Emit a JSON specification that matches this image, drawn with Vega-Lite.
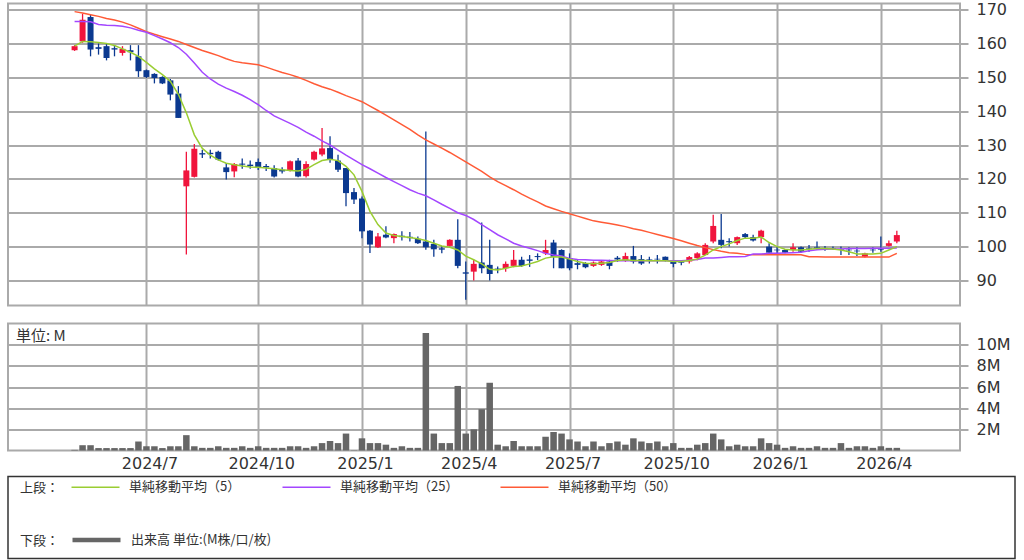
{
"$schema": "https://vega.github.io/schema/vega-lite/v6.json",
"background": "white",
"padding": {"left": 7, "top": 0.5, "right": 0, "bottom": 0},
"bounds": "full",
"spacing": 3,
"datasets": {"w": [
{"d":"2024-04-29","o":158.0,"h":159.5,"l":157.8,"c":159.2,"v":0.06,"m5":159.2,"m25":166.5,"m50":169.4},
{"d":"2024-05-06","o":160.6,"h":168.8,"l":160.2,"c":167.0,"v":0.5,"m5":160.6,"m25":166.5,"m50":169.0},
{"d":"2024-05-13","o":167.8,"h":168.4,"l":156.2,"c":158.2,"v":0.5,"m5":160.5,"m25":166.4,"m50":168.5},
{"d":"2024-05-20","o":158.9,"h":160.0,"l":156.7,"c":158.4,"v":0.23,"m5":160.3,"m25":165.6,"m50":168.0},
{"d":"2024-05-27","o":159.2,"h":160.0,"l":155.0,"c":155.7,"v":0.23,"m5":160.0,"m25":165.4,"m50":167.4},
{"d":"2024-06-03","o":158.6,"h":159.4,"l":156.2,"c":158.2,"v":0.23,"m5":159.4,"m25":165.3,"m50":166.9},
{"d":"2024-06-10","o":157.2,"h":159.2,"l":156.4,"c":158.4,"v":0.23,"m5":158.4,"m25":165.1,"m50":166.3},
{"d":"2024-06-17","o":158.0,"h":159.5,"l":155.0,"c":157.4,"v":0.23,"m5":157.4,"m25":164.6,"m50":165.5},
{"d":"2024-06-24","o":156.2,"h":159.5,"l":150.1,"c":151.8,"v":0.85,"m5":156.2,"m25":163.9,"m50":164.5},
{"d":"2024-07-01","o":152.1,"h":152.3,"l":149.8,"c":150.1,"v":0.4,"m5":154.4,"m25":163.3,"m50":163.5},
{"d":"2024-07-08","o":151.0,"h":151.2,"l":148.2,"c":149.8,"v":0.4,"m5":152.5,"m25":162.3,"m50":162.7},
{"d":"2024-07-15","o":150.1,"h":150.3,"l":148.0,"c":148.2,"v":0.23,"m5":150.8,"m25":161.3,"m50":162.0},
{"d":"2024-07-22","o":149.1,"h":149.5,"l":143.2,"c":144.9,"v":0.4,"m5":148.8,"m25":160.2,"m50":161.3},
{"d":"2024-07-29","o":145.2,"h":147.4,"l":138.0,"c":138.0,"v":0.4,"m5":145.0,"m25":158.8,"m50":160.6},
{"d":"2024-08-05","o":117.8,"h":128.0,"l":97.7,"c":122.5,"v":1.45,"m5":139.5,"m25":156.8,"m50":159.7},
{"d":"2024-08-12","o":120.6,"h":130.3,"l":120.4,"c":128.9,"v":0.4,"m5":133.0,"m25":154.2,"m50":158.8},
{"d":"2024-08-19","o":127.6,"h":128.6,"l":126.2,"c":127.2,"v":0.25,"m5":129.0,"m25":151.5,"m50":157.9},
{"d":"2024-08-26","o":127.7,"h":128.6,"l":126.0,"c":127.3,"v":0.25,"m5":127.0,"m25":149.5,"m50":157.2},
{"d":"2024-09-02","o":128.0,"h":128.3,"l":125.4,"c":125.7,"v":0.4,"m5":125.6,"m25":148.0,"m50":156.4},
{"d":"2024-09-09","o":123.4,"h":124.7,"l":119.8,"c":122.0,"v":0.25,"m5":124.6,"m25":146.8,"m50":155.5},
{"d":"2024-09-16","o":122.2,"h":124.7,"l":120.5,"c":124.4,"v":0.25,"m5":124.2,"m25":145.8,"m50":154.7},
{"d":"2024-09-23","o":124.5,"h":126.0,"l":123.0,"c":124.2,"v":0.4,"m5":123.8,"m25":144.7,"m50":154.3},
{"d":"2024-09-30","o":124.2,"h":125.4,"l":123.0,"c":123.8,"v":0.25,"m5":123.5,"m25":143.4,"m50":154.0},
{"d":"2024-10-07","o":125.0,"h":126.0,"l":122.6,"c":123.2,"v":0.4,"m5":123.4,"m25":141.9,"m50":153.7},
{"d":"2024-10-14","o":123.8,"h":124.4,"l":122.3,"c":123.4,"v":0.25,"m5":123.2,"m25":140.2,"m50":153.0},
{"d":"2024-10-21","o":123.2,"h":124.0,"l":120.4,"c":120.7,"v":0.25,"m5":123.0,"m25":138.6,"m50":152.2},
{"d":"2024-10-28","o":122.7,"h":123.4,"l":121.6,"c":122.2,"v":0.25,"m5":122.7,"m25":137.5,"m50":151.4},
{"d":"2024-11-04","o":122.4,"h":125.4,"l":122.2,"c":125.2,"v":0.4,"m5":122.5,"m25":136.4,"m50":150.8},
{"d":"2024-11-11","o":125.4,"h":126.2,"l":120.5,"c":120.7,"v":0.4,"m5":122.3,"m25":135.2,"m50":150.0},
{"d":"2024-11-18","o":120.8,"h":125.2,"l":120.4,"c":124.4,"v":0.25,"m5":122.8,"m25":133.8,"m50":149.1},
{"d":"2024-11-25","o":125.7,"h":128.3,"l":125.4,"c":128.0,"v":0.4,"m5":124.2,"m25":132.6,"m50":148.1},
{"d":"2024-12-02","o":127.2,"h":135.0,"l":126.7,"c":129.0,"v":0.7,"m5":125.4,"m25":131.2,"m50":147.2},
{"d":"2024-12-09","o":129.1,"h":132.6,"l":124.8,"c":125.7,"v":0.9,"m5":125.8,"m25":130.0,"m50":146.5},
{"d":"2024-12-16","o":125.4,"h":127.1,"l":122.0,"c":122.7,"v":0.7,"m5":125.4,"m25":128.5,"m50":145.6},
{"d":"2024-12-23","o":123.2,"h":123.2,"l":111.9,"c":115.8,"v":1.6,"m5":123.7,"m25":127.0,"m50":144.6},
{"d":"2024-12-30","o":116.1,"h":117.3,"l":112.6,"c":113.9,"v":0.03,"m5":121.2,"m25":125.6,"m50":143.7},
{"d":"2025-01-06","o":114.2,"h":114.8,"l":102.5,"c":104.5,"v":1.15,"m5":116.3,"m25":124.2,"m50":142.8},
{"d":"2025-01-13","o":104.7,"h":104.9,"l":98.1,"c":100.6,"v":0.7,"m5":110.4,"m25":123.0,"m50":141.5},
{"d":"2025-01-20","o":99.8,"h":104.0,"l":99.6,"c":103.0,"v":0.7,"m5":106.5,"m25":121.7,"m50":140.2},
{"d":"2025-01-27","o":103.5,"h":106.0,"l":102.5,"c":102.7,"v":0.55,"m5":104.0,"m25":120.4,"m50":138.8},
{"d":"2025-02-03","o":102.5,"h":103.9,"l":101.0,"c":103.7,"v":0.25,"m5":103.3,"m25":119.2,"m50":137.4},
{"d":"2025-02-10","o":103.2,"h":104.5,"l":101.8,"c":102.8,"v":0.4,"m5":103.0,"m25":118.0,"m50":136.0},
{"d":"2025-02-17","o":102.9,"h":104.3,"l":101.5,"c":102.5,"v":0.25,"m5":102.7,"m25":116.8,"m50":134.6},
{"d":"2025-02-24","o":102.3,"h":103.0,"l":100.8,"c":101.0,"v":0.25,"m5":102.3,"m25":115.8,"m50":133.0},
{"d":"2025-03-03","o":101.5,"h":134.0,"l":99.1,"c":99.8,"v":11.1,"m5":101.8,"m25":115.0,"m50":131.5},
{"d":"2025-03-10","o":100.8,"h":102.0,"l":97.0,"c":99.2,"v":1.6,"m5":101.0,"m25":113.8,"m50":130.3},
{"d":"2025-03-17","o":99.5,"h":100.2,"l":98.0,"c":99.1,"v":0.7,"m5":100.2,"m25":112.5,"m50":129.1},
{"d":"2025-03-24","o":100.2,"h":102.2,"l":100.0,"c":102.0,"v":0.7,"m5":99.8,"m25":111.3,"m50":127.8},
{"d":"2025-03-31","o":102.0,"h":108.1,"l":93.6,"c":94.3,"v":6.1,"m5":99.0,"m25":110.0,"m50":126.4},
{"d":"2025-04-07","o":92.4,"h":95.6,"l":84.3,"c":92.0,"v":1.6,"m5":97.2,"m25":109.2,"m50":125.0},
{"d":"2025-04-14","o":92.6,"h":96.1,"l":90.0,"c":94.9,"v":2.0,"m5":96.1,"m25":108.0,"m50":123.6},
{"d":"2025-04-21","o":95.3,"h":107.1,"l":92.1,"c":93.6,"v":3.9,"m5":94.9,"m25":106.5,"m50":122.2},
{"d":"2025-04-28","o":94.6,"h":102.0,"l":90.0,"c":91.9,"v":6.4,"m5":93.3,"m25":105.0,"m50":120.6},
{"d":"2025-05-05","o":93.5,"h":94.1,"l":92.1,"c":93.2,"v":0.55,"m5":93.1,"m25":103.5,"m50":119.2},
{"d":"2025-05-12","o":93.6,"h":95.6,"l":92.6,"c":94.9,"v":0.4,"m5":93.6,"m25":102.3,"m50":118.0},
{"d":"2025-05-19","o":94.3,"h":99.0,"l":93.9,"c":96.1,"v":0.9,"m5":94.1,"m25":101.0,"m50":116.8},
{"d":"2025-05-26","o":96.1,"h":97.0,"l":94.0,"c":94.3,"v":0.4,"m5":94.3,"m25":100.2,"m50":115.5},
{"d":"2025-06-02","o":96.2,"h":97.5,"l":94.0,"c":95.8,"v":0.4,"m5":94.9,"m25":99.5,"m50":114.3},
{"d":"2025-06-09","o":97.2,"h":98.0,"l":96.0,"c":96.9,"v":0.4,"m5":95.6,"m25":98.8,"m50":113.2},
{"d":"2025-06-16","o":98.0,"h":102.0,"l":97.5,"c":99.0,"v":1.3,"m5":96.6,"m25":98.0,"m50":112.0},
{"d":"2025-06-23","o":101.2,"h":102.0,"l":93.6,"c":97.0,"v":1.75,"m5":97.0,"m25":97.5,"m50":111.2},
{"d":"2025-06-30","o":99.0,"h":99.2,"l":93.6,"c":93.6,"v":1.6,"m5":96.9,"m25":97.2,"m50":110.4},
{"d":"2025-07-07","o":96.6,"h":98.0,"l":93.0,"c":93.6,"v":1.05,"m5":96.3,"m25":96.5,"m50":109.7},
{"d":"2025-07-14","o":95.1,"h":96.0,"l":93.3,"c":94.6,"v":0.85,"m5":95.6,"m25":96.2,"m50":109.0},
{"d":"2025-07-21","o":95.1,"h":95.4,"l":93.6,"c":93.9,"v":0.4,"m5":95.1,"m25":96.1,"m50":108.3},
{"d":"2025-07-28","o":94.3,"h":95.6,"l":94.0,"c":95.3,"v":0.85,"m5":94.9,"m25":96.0,"m50":107.6},
{"d":"2025-08-04","o":94.6,"h":95.9,"l":94.3,"c":95.6,"v":0.4,"m5":95.1,"m25":96.0,"m50":107.2},
{"d":"2025-08-11","o":95.6,"h":96.1,"l":93.3,"c":94.3,"v":0.7,"m5":95.3,"m25":95.9,"m50":106.8},
{"d":"2025-08-18","o":96.7,"h":97.2,"l":95.5,"c":96.2,"v":0.85,"m5":95.9,"m25":95.8,"m50":106.4},
{"d":"2025-08-25","o":95.9,"h":98.2,"l":95.5,"c":97.2,"v":0.55,"m5":96.1,"m25":95.8,"m50":105.9},
{"d":"2025-09-01","o":97.2,"h":100.2,"l":95.0,"c":95.6,"v":1.15,"m5":95.9,"m25":95.8,"m50":105.3},
{"d":"2025-09-08","o":96.3,"h":97.5,"l":94.6,"c":95.0,"v":0.85,"m5":95.9,"m25":95.8,"m50":104.8},
{"d":"2025-09-15","o":96.2,"h":97.0,"l":95.0,"c":96.0,"v":0.7,"m5":95.8,"m25":95.8,"m50":104.2},
{"d":"2025-09-22","o":96.4,"h":97.5,"l":95.0,"c":96.2,"v":0.85,"m5":95.8,"m25":95.8,"m50":103.6},
{"d":"2025-09-29","o":97.0,"h":97.1,"l":95.6,"c":95.9,"v":0.4,"m5":95.8,"m25":95.8,"m50":103.0},
{"d":"2025-10-06","o":95.6,"h":95.9,"l":93.9,"c":94.9,"v":0.7,"m5":95.6,"m25":95.8,"m50":102.4},
{"d":"2025-10-13","o":95.4,"h":96.0,"l":94.5,"c":95.2,"v":0.25,"m5":95.6,"m25":95.8,"m50":101.7},
{"d":"2025-10-20","o":95.6,"h":97.2,"l":95.0,"c":96.9,"v":0.25,"m5":95.9,"m25":96.0,"m50":101.0},
{"d":"2025-10-27","o":96.6,"h":98.3,"l":96.0,"c":98.0,"v":0.55,"m5":96.3,"m25":96.2,"m50":100.3},
{"d":"2025-11-03","o":97.5,"h":101.0,"l":97.5,"c":100.5,"v":0.7,"m5":97.5,"m25":96.6,"m50":99.7},
{"d":"2025-11-10","o":101.5,"h":109.4,"l":101.0,"c":106.1,"v":1.6,"m5":99.0,"m25":96.6,"m50":99.1},
{"d":"2025-11-17","o":102.0,"h":109.6,"l":99.5,"c":100.5,"v":1.05,"m5":100.0,"m25":96.8,"m50":98.6},
{"d":"2025-11-24","o":101.6,"h":102.5,"l":100.0,"c":101.3,"v":0.4,"m5":100.8,"m25":97.0,"m50":98.2},
{"d":"2025-12-01","o":101.0,"h":103.0,"l":100.5,"c":102.8,"v":0.55,"m5":101.8,"m25":97.0,"m50":98.0},
{"d":"2025-12-08","o":103.7,"h":104.0,"l":102.5,"c":102.8,"v":0.4,"m5":102.5,"m25":97.1,"m50":97.7},
{"d":"2025-12-15","o":102.8,"h":103.5,"l":101.5,"c":101.8,"v":0.4,"m5":102.5,"m25":97.8,"m50":97.6},
{"d":"2025-12-22","o":102.8,"h":105.0,"l":101.0,"c":104.7,"v":1.15,"m5":102.8,"m25":97.8,"m50":97.6},
{"d":"2025-12-29","o":100.0,"h":101.0,"l":98.0,"c":98.2,"v":0.7,"m5":101.2,"m25":98.0,"m50":97.6},
{"d":"2026-01-05","o":99.1,"h":100.0,"l":98.0,"c":98.9,"v":0.55,"m5":100.0,"m25":98.0,"m50":97.6},
{"d":"2026-01-12","o":99.0,"h":99.3,"l":98.0,"c":98.2,"v":0.25,"m5":99.2,"m25":98.1,"m50":97.6},
{"d":"2026-01-19","o":99.0,"h":101.0,"l":98.5,"c":99.8,"v":0.4,"m5":99.0,"m25":98.2,"m50":97.6},
{"d":"2026-01-26","o":99.8,"h":100.0,"l":98.3,"c":98.5,"v":0.25,"m5":99.0,"m25":98.3,"m50":97.6},
{"d":"2026-02-02","o":99.6,"h":100.5,"l":98.5,"c":99.4,"v":0.25,"m5":99.2,"m25":98.8,"m50":97.0},
{"d":"2026-02-09","o":99.9,"h":101.5,"l":99.0,"c":99.7,"v":0.4,"m5":99.4,"m25":99.1,"m50":97.0},
{"d":"2026-02-16","o":99.6,"h":100.2,"l":98.8,"c":99.4,"v":0.25,"m5":99.4,"m25":99.2,"m50":96.9},
{"d":"2026-02-23","o":99.5,"h":100.0,"l":99.0,"c":99.3,"v":0.25,"m5":99.3,"m25":99.3,"m50":96.9},
{"d":"2026-03-02","o":99.3,"h":100.0,"l":97.5,"c":99.1,"v":0.7,"m5":99.0,"m25":99.3,"m50":96.9},
{"d":"2026-03-09","o":99.1,"h":99.8,"l":97.5,"c":98.9,"v":0.25,"m5":98.5,"m25":99.4,"m50":96.9},
{"d":"2026-03-16","o":98.8,"h":99.8,"l":97.2,"c":98.6,"v":0.4,"m5":97.8,"m25":99.4,"m50":96.9},
{"d":"2026-03-23","o":97.0,"h":98.2,"l":96.8,"c":98.0,"v":0.4,"m5":97.8,"m25":99.4,"m50":96.9},
{"d":"2026-03-30","o":99.1,"h":99.8,"l":98.2,"c":98.9,"v":0.25,"m5":97.8,"m25":99.5,"m50":96.9},
{"d":"2026-04-06","o":99.3,"h":103.0,"l":98.5,"c":99.1,"v":0.4,"m5":98.0,"m25":99.5,"m50":96.9},
{"d":"2026-04-13","o":100.2,"h":101.8,"l":100.0,"c":101.0,"v":0.25,"m5":99.0,"m25":99.5,"m50":96.9},
{"d":"2026-04-20","o":101.5,"h":104.7,"l":101.0,"c":103.4,"v":0.25,"m5":100.0,"m25":99.6,"m50":98.0}
]},
"vconcat": [
{
"bounds": "flush",
"spacing": 18,
"vconcat": [
{
"width": 952,
"height": 302,
"data": {"name": "w"},
"layer": [
{"mark": {"type": "rule", "strokeWidth": 1.3},
 "encoding": {
  "x": {"field": "d", "type": "temporal",
   "scale": {"type": "utc", "domain": [{"year":2024,"month":3,"date":6,"utc":true},{"year":2026,"month":6,"date":10,"utc":true}]},
   "axis": {"values": [{"year":2024,"month":7,"date":1,"utc":true},{"year":2024,"month":10,"date":7,"utc":true},{"year":2025,"month":1,"date":6,"utc":true},{"year":2025,"month":4,"date":7,"utc":true},{"year":2025,"month":7,"date":7,"utc":true},{"year":2025,"month":10,"date":6,"utc":true},{"year":2026,"month":1,"date":5,"utc":true},{"year":2026,"month":4,"date":6,"utc":true}],
    "labels": false, "ticks": false, "domain": false, "title": null, "grid": true}},
  "y": {"field": "l", "type": "quantitative",
   "scale": {"domain": [82.6, 171.8], "nice": false, "zero": false},
   "axis": {"orient": "right", "values": [90,100,110,120,130,140,150,160,170], "title": null, "grid": true, "ticks": true, "tickSize": 8, "labelPadding": 8, "domain": false, "labelOverlap": false}},
  "y2": {"field": "h"},
  "color": {"condition": {"test": "datum.c >= datum.o", "value": "#f0143c"}, "value": "#0b3990"}
 }},
{"mark": {"type": "bar", "width": 6, "minBandSize": 2},
 "encoding": {
  "x": {"field": "d", "type": "temporal"},
  "y": {"field": "o", "type": "quantitative", "axis": {"orient": "right", "values": [90,100,110,120,130,140,150,160,170], "title": null, "labelOverlap": false}},
  "y2": {"field": "c"},
  "color": {"condition": {"test": "datum.c >= datum.o", "value": "#f0143c"}, "value": "#0b3990"}
 }},
{"mark": {"type": "line", "color": "#ff5a36", "strokeWidth": 1.5},
 "encoding": {"x": {"field": "d", "type": "temporal"}, "y": {"field": "m50", "type": "quantitative", "axis": {"orient": "right", "values": [90,100,110,120,130,140,150,160,170], "title": null, "labelOverlap": false}}}},
{"mark": {"type": "line", "color": "#a347ff", "strokeWidth": 1.5},
 "encoding": {"x": {"field": "d", "type": "temporal"}, "y": {"field": "m25", "type": "quantitative", "axis": {"orient": "right", "values": [90,100,110,120,130,140,150,160,170], "title": null, "labelOverlap": false}}}},
{"mark": {"type": "line", "color": "#9acd32", "strokeWidth": 1.5},
 "encoding": {"x": {"field": "d", "type": "temporal"}, "y": {"field": "m5", "type": "quantitative", "axis": {"orient": "right", "values": [90,100,110,120,130,140,150,160,170], "title": null, "labelOverlap": false}}}}
]
},
{
"width": 952,
"height": 127,
"data": {"name": "w"},
"title": {"text": "単位: M", "anchor": "start", "orient": "top", "dx": 8, "dy": 24, "fontSize": 15, "fontWeight": "normal", "font": "Noto Sans CJK JP", "color": "#333333"},
"mark": {"type": "bar", "width": 6.5, "color": "#666666"},
"encoding": {
 "x": {"field": "d", "type": "temporal",
  "scale": {"type": "utc", "domain": [{"year":2024,"month":3,"date":6,"utc":true},{"year":2026,"month":6,"date":10,"utc":true}]},
  "axis": {"values": [{"year":2024,"month":7,"date":1,"utc":true},{"year":2024,"month":10,"date":7,"utc":true},{"year":2025,"month":1,"date":6,"utc":true},{"year":2025,"month":4,"date":7,"utc":true},{"year":2025,"month":7,"date":7,"utc":true},{"year":2025,"month":10,"date":6,"utc":true},{"year":2026,"month":1,"date":5,"utc":true},{"year":2026,"month":4,"date":6,"utc":true}],
   "labelExpr": "utcFormat(datum.value, '%Y/%-m')", "ticks": false, "domain": false, "title": null, "grid": true, "labelPadding": 5, "labelOffset": 3, "labelFlush": false, "labelOverlap": false}},
 "y": {"field": "v", "type": "quantitative",
  "scale": {"domain": [0, 12], "nice": false},
  "axis": {"orient": "right", "values": [2,4,6,8,10], "labelExpr": "datum.value + 'M'", "title": null, "grid": true, "ticks": true, "tickSize": 8, "labelPadding": 8, "domain": false, "labelOverlap": false}}
}
}
]
},
{
"width": 1007,
"height": 82,
"view": {"stroke": "#333333", "strokeWidth": 1.5},
"layer": [
{"data": {"values": [{"k": "単純移動平均（5）"}, {"k": "単純移動平均（25）"}, {"k": "単純移動平均（50）"}]},
 "mark": {"type": "point", "opacity": 0},
 "encoding": {"color": {"field": "k", "type": "nominal",
  "scale": {"domain": ["単純移動平均（5）", "単純移動平均（25）", "単純移動平均（50）"], "range": ["#9acd32", "#a347ff", "#ff5a36"]},
  "legend": {"title": "上段：", "orient": "none", "legendX": 12, "legendY": 4, "direction": "horizontal", "titleOrient": "left", "titlePadding": 29,
   "symbolType": "M-4.8,0H4.8", "symbolSize": 100, "symbolStrokeWidth": 1.5, "symbolOpacity": 1, "labelOffset": 27, "columnPadding": 38, "padding": 0}}}},
{"data": {"values": [{"k": "出来高 単位:(M株/口/枚)"}]},
 "mark": {"type": "point", "opacity": 0},
 "encoding": {"color": {"field": "k", "type": "nominal",
  "scale": {"domain": ["出来高 単位:(M株/口/枚)"], "range": ["#666666"]},
  "legend": {"title": "下段：", "orient": "none", "legendX": 12, "legendY": 56, "direction": "horizontal", "titleOrient": "left", "titlePadding": 29,
   "symbolType": "M-4.8,0H4.8", "symbolSize": 100, "symbolStrokeWidth": 4.5, "symbolOpacity": 1, "labelOffset": 27, "padding": 0}}}}
],
"resolve": {"scale": {"color": "independent"}}
}
],
"config": {
 "font": "Noto Sans CJK JP",
 "view": {"stroke": "#aaaaaa", "strokeWidth": 2},
 "axis": {"labelFont": "DejaVu Sans", "labelFontSize": 16, "labelColor": "#333333", "gridColor": "#aaaaaa", "gridWidth": 2, "tickColor": "#aaaaaa", "tickWidth": 2, "labelOverlap": false},
 "legend": {"labelFont": "Noto Sans CJK JP", "labelFontSize": 13, "labelColor": "#333333", "titleFont": "Noto Sans CJK JP", "titleFontSize": 13, "titleFontWeight": "normal", "titleColor": "#333333", "labelLimit": 400}
}
}
